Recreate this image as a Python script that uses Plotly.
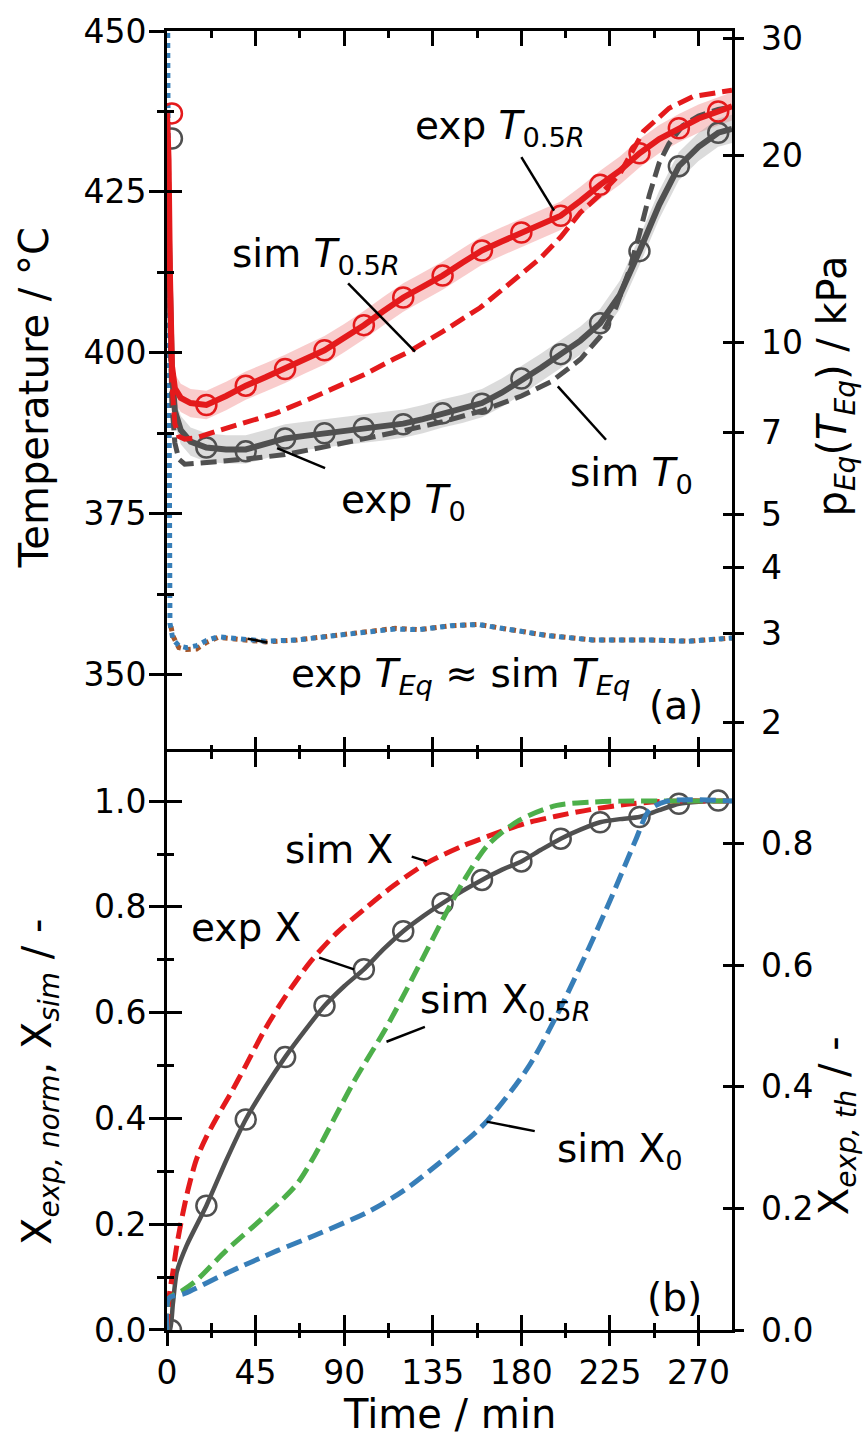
import numpy as np
import plotly.graph_objects as go

# ---------------- data: panel (a) temperatures / degC ----------------
t_exp05 = [0, 0.8, 1.5, 2.5, 4, 7, 12, 20, 30, 40, 50, 60, 70, 80, 90, 100, 110, 120,
           130, 140, 150, 160, 170, 180, 190, 200, 210, 220, 230, 240, 250, 260, 270, 280, 287]
T_exp05 = [437.2, 430, 412, 398, 394.5, 393, 392.2, 391.9, 393.3, 394.9, 396.2, 397.5, 399.0,
           400.4, 402.3, 404.3, 406.5, 408.6, 410.3, 412.0, 414.0, 415.9, 417.3, 418.7, 420.0,
           421.3, 423.6, 426.1, 428.3, 431.0, 433.2, 434.9, 436.4, 437.5, 438.3]

t_exp0 = t_exp05
T_exp0 = [433.3, 425, 410, 397, 391, 388, 386.2, 385.3, 385.0, 385.0, 385.8, 386.7, 387.1,
          387.5, 387.9, 388.3, 388.6, 389.0, 389.7, 390.6, 391.3, 392.2, 393.8, 395.7, 397.7,
          399.8, 401.9, 404.6, 409.0, 415.8, 423.0, 429.0, 432.0, 434.2, 434.8]

t_mark = [2.5, 20, 40, 60, 80, 100, 120, 140, 160, 180, 200, 220, 240, 260, 280]
T_mark05 = [437.2, 391.9, 394.9, 397.5, 400.4, 404.3, 408.6, 412.0, 415.9, 418.7, 421.3,
            426.1, 431.0, 434.9, 437.5]
T_mark0 = [433.3, 385.3, 384.7, 386.7, 387.5, 388.3, 388.9, 390.6, 392.1, 396.0, 399.8,
           404.6, 415.8, 429.0, 434.2]

t_sim05 = [0, 0.8, 1.5, 2.5, 4, 6, 9, 15, 25, 40, 55, 70, 85, 100, 115, 123, 140, 159,
           175, 190, 200, 210, 220, 230, 242, 255, 267, 280, 287]
T_sim05 = [437.2, 428, 410, 395, 389, 387, 386.6, 386.8, 387.8, 389.2, 390.6, 392.5, 394.5,
           396.6, 399.0, 400.2, 403.3, 407.0, 411.0, 414.8, 418.0, 421.8, 424.6, 427.8, 434.4,
           438.0, 439.8, 440.5, 440.8]

t_sim0 = [0, 0.8, 1.5, 2.5, 4, 6, 9, 15, 25, 40, 60, 80, 100, 120, 140, 160, 180, 195, 210,
          220, 228, 235, 240, 245, 250, 255, 262, 270, 280, 287]
T_sim0 = [433.3, 424, 405, 392, 386, 383.5, 382.7, 382.8, 383.1, 383.5, 384.2, 385.4, 386.6,
          387.9, 389.3, 391.0, 393.3, 395.5, 399.0, 402.5, 407.0, 413.0, 418.5, 424.5, 429.5,
          432.5, 435.3, 436.8, 437.8, 438.2]

band_T = 2.2  # half width of the measurement band / K

t_eq_exp = [2, 3, 6, 10, 15, 20, 26, 50, 66, 89, 116, 128, 144, 158, 177, 193, 216, 245, 265, 287]
T_eq_exp = [357.5, 356.0, 354.2, 353.9, 354.0, 355.0, 355.8, 355.1, 355.4, 356.2, 357.2, 357.0,
            357.6, 357.8, 356.9, 356.1, 355.4, 355.4, 355.2, 355.7]
t_eq_sim = [0, 0.5, 1.5, 3, 6, 10, 15, 20, 26, 50, 66, 89, 116, 128, 144, 158, 177, 193, 216,
            245, 265, 287]
T_eq_sim = [480, 420, 358, 355.5, 354.5, 354.2, 354.5, 355.3, 355.9, 355.2, 355.4, 356.2, 357.1,
            357.0, 357.6, 357.8, 356.9, 356.1, 355.4, 355.4, 355.2, 355.7]

# van't Hoff relation used for the secondary pressure axis: ln(p/kPa) = A - B/T
VH_A = 19.1024
VH_B = 11335.5
p_ticks = [2, 3, 4, 5, 7, 10, 20, 30]

# ---------------- data: panel (b) conversion ----------------
t_expX = [0, 1.5, 3, 5, 10, 20, 30, 40, 50, 60, 70, 80, 90, 100, 110, 120, 130, 140, 150, 160,
          170, 180, 190, 200, 210, 220, 230, 240, 250, 260, 270, 280, 287]
X_exp = [0.0, 0.0, 0.05, 0.11, 0.16, 0.235, 0.32, 0.398, 0.46, 0.516, 0.566, 0.613, 0.65,
         0.682, 0.72, 0.754, 0.782, 0.807, 0.83, 0.851, 0.87, 0.886, 0.908, 0.929, 0.946,
         0.960, 0.966, 0.970, 0.983, 0.995, 0.999, 1.0, 1.0]
t_markX = [2, 20, 40, 60, 80, 100, 120, 140, 160, 180, 200, 220, 240, 260, 280]
X_mark = [0.0, 0.235, 0.398, 0.516, 0.613, 0.682, 0.754, 0.807, 0.851, 0.886, 0.929, 0.960,
          0.970, 0.995, 1.001]

t_simX = [0, 1, 3, 5, 8, 11, 15, 20, 25, 32, 40, 50, 60, 73, 86, 100, 115, 132, 150,
          167, 182, 197, 215, 236, 255, 287]
X_sim = [0.0, 0.06, 0.11, 0.16, 0.22, 0.27, 0.323, 0.365, 0.40, 0.445, 0.50, 0.57, 0.63,
         0.697, 0.75, 0.795, 0.84, 0.883, 0.915, 0.939, 0.958, 0.971, 0.984, 0.995, 1.0, 1.0]

t_simX05 = [0, 1, 8, 15, 30, 49, 66, 75, 85, 95, 112, 128, 140, 151, 163, 179, 198, 215, 230, 287]
X_sim05 = [0.0, 0.06, 0.075, 0.094, 0.15, 0.213, 0.276, 0.33, 0.40, 0.47, 0.576, 0.689, 0.776,
           0.851, 0.917, 0.964, 0.992, 0.998, 1.0, 1.0]

t_simX0 = [0, 1, 9, 30, 56, 77, 103, 120, 143, 161, 183, 198, 214, 226, 238, 245, 254, 287]
X_sim0 = [0.0, 0.06, 0.069, 0.107, 0.15, 0.182, 0.225, 0.263, 0.33, 0.389, 0.494, 0.595, 0.72,
          0.82, 0.926, 0.983, 1.0, 1.0]

X_th_scale = 0.87  # thermal conversion corresponding to normalised X = 1
xth_ticks = [0.0, 0.2, 0.4, 0.6, 0.8]

# ---------------- style ----------------
RED = "#e41a1c"
GREY = "#505050"
GREEN = "#4daf4a"
BLUE = "#377eb8"
BROWN = "#a65628"
FONT = "DejaVu Sans"
DASH = "16px,7px"
PAD = "\u00a0"  # keeps right-hand tick labels clear of the ticks

T_RANGE = [338, 450]
X_RANGE = [0, 287]
XN_RANGE = [0, 1.093]
XTH_RANGE = [XN_RANGE[0] * X_th_scale, XN_RANGE[1] * X_th_scale]
SPLIT = 0.445

fig = go.Figure()


def band(t, T, color, xa, ya):
    up = [v + band_T for v in T]
    lo = [v - band_T for v in T]
    fig.add_trace(go.Scatter(x=list(t) + list(t)[::-1], y=up + lo[::-1], fill="toself",
                             fillcolor=color, line=dict(width=0), mode="lines",
                             xaxis=xa, yaxis=ya, hoverinfo="skip", showlegend=False))


# panel (a)
band(t_exp05, T_exp05, "rgba(238,120,120,0.38)", "x", "y")
band(t_exp0, T_exp0, "rgba(165,165,165,0.40)", "x", "y")

fig.add_trace(go.Scatter(x=t_eq_exp, y=T_eq_exp, mode="lines",
                         line=dict(color=BROWN, width=5, dash="5px,5px"),
                         xaxis="x", yaxis="y", showlegend=False))
fig.add_trace(go.Scatter(x=t_eq_sim, y=T_eq_sim, mode="lines",
                         line=dict(color=BLUE, width=5, dash="0px,5px,5px,0px"),
                         xaxis="x", yaxis="y", showlegend=False))

fig.add_trace(go.Scatter(x=t_exp0, y=T_exp0, mode="lines", line=dict(color=GREY, width=6),
                         xaxis="x", yaxis="y", showlegend=False))
fig.add_trace(go.Scatter(x=t_mark, y=T_mark0, mode="markers",
                         marker=dict(symbol="circle-open", size=20, color=GREY,
                                     line=dict(width=2.5)),
                         xaxis="x", yaxis="y", showlegend=False))
fig.add_trace(go.Scatter(x=t_sim0, y=T_sim0, mode="lines",
                         line=dict(color=GREY, width=5, dash=DASH),
                         xaxis="x", yaxis="y", showlegend=False))

fig.add_trace(go.Scatter(x=t_exp05, y=T_exp05, mode="lines", line=dict(color=RED, width=6),
                         xaxis="x", yaxis="y", showlegend=False))
fig.add_trace(go.Scatter(x=t_mark, y=T_mark05, mode="markers",
                         marker=dict(symbol="circle-open", size=20, color=RED,
                                     line=dict(width=2.5)),
                         xaxis="x", yaxis="y", showlegend=False))
fig.add_trace(go.Scatter(x=t_sim05, y=T_sim05, mode="lines",
                         line=dict(color=RED, width=5, dash=DASH),
                         xaxis="x", yaxis="y", showlegend=False))

# panel (b)
fig.add_trace(go.Scatter(x=t_expX, y=X_exp, mode="lines",
                         line=dict(color=GREY, width=4.5, shape="spline", smoothing=0.6),
                         xaxis="x2", yaxis="y3", showlegend=False))
fig.add_trace(go.Scatter(x=t_markX, y=X_mark, mode="markers",
                         marker=dict(symbol="circle-open", size=20, color=GREY,
                                     line=dict(width=2.5)),
                         xaxis="x2", yaxis="y3", showlegend=False))
for tt, xx, col in [(t_simX, X_sim, RED), (t_simX05, X_sim05, GREEN), (t_simX0, X_sim0, BLUE)]:
    fig.add_trace(go.Scatter(x=tt, y=xx, mode="lines",
                             line=dict(color=col, width=5, dash=DASH, shape="spline",
                                       smoothing=0.8),
                             xaxis="x2", yaxis="y3", showlegend=False))

# invisible anchors so that every overlaying axis gets drawn
for xa, ya, xr, yr in [("x4", "y", X_RANGE, T_RANGE), ("x", "y2", X_RANGE, T_RANGE),
                       ("x", "y4", X_RANGE, T_RANGE), ("x", "y5", X_RANGE, T_RANGE),
                       ("x3", "y3", X_RANGE, XN_RANGE), ("x2", "y6", X_RANGE, XN_RANGE),
                       ("x2", "y7", X_RANGE, XTH_RANGE), ("x2", "y8", X_RANGE, XTH_RANGE)]:
    fig.add_trace(go.Scatter(x=[xr[0]], y=[yr[0]], mode="markers",
                             marker=dict(opacity=0, size=1), hoverinfo="skip",
                             xaxis=xa, yaxis=ya, showlegend=False))

# ---------------- axes ----------------
tickfont = dict(family=FONT, size=33, color="black")
common = dict(showline=True, linewidth=3, linecolor="black", tickwidth=3, tickcolor="black",
              ticklen=15, showgrid=False, zeroline=False, tickfont=tickfont)
nolab = dict(showline=False, showgrid=False, zeroline=False, showticklabels=False,
             tickwidth=3, tickcolor="black", ticklen=15)
RTICK = 9  # tick length on the right-hand axes

xminor_in = dict(ticks="inside", dtick=22.5, ticklen=7, tickwidth=2.5, tickcolor="black")
xminor_out = dict(ticks="outside", dtick=22.5, ticklen=7, tickwidth=2.5, tickcolor="black")

p_tickvals = [VH_B / (VH_A - np.log(p)) - 273.15 for p in p_ticks]

fig.update_layout(
    # panel (a): frame line on top, inward ticks top and bottom
    xaxis=dict(**common, domain=[0, 1], anchor="y", side="top", range=X_RANGE, dtick=45,
               tick0=0, ticks="inside", showticklabels=False, minor=xminor_in),
    xaxis4=dict(**nolab, overlaying="x", anchor="y", side="bottom", range=X_RANGE, dtick=45,
                tick0=0, ticks="inside", minor=xminor_in),
    # panel (b): shared border on top, labelled time axis at the bottom
    xaxis2=dict(**common, domain=[0, 1], anchor="y3", range=X_RANGE, dtick=45, tick0=0,
                ticks="inside", mirror="ticks", minor=xminor_in, ticklabelstandoff=11),
    xaxis3=dict(**nolab, overlaying="x2", anchor="y3", range=X_RANGE, dtick=45, tick0=0,
                ticks="outside", minor=xminor_out),
    yaxis=dict(**common, domain=[SPLIT, 1], anchor="x", range=T_RANGE, dtick=25, tick0=350,
               ticks="outside", side="left", ticklabelstandoff=-4,
               minor=dict(ticks="outside", dtick=12.5, ticklen=7, tickwidth=2.5,
                          tickcolor="black")),
    yaxis4=dict(**nolab, overlaying="y", anchor="x", side="left", range=T_RANGE, dtick=25,
                tick0=350, ticks="inside",
                minor=dict(ticks="inside", dtick=12.5, ticklen=7, tickwidth=2.5,
                           tickcolor="black")),
    yaxis2=dict(**{**common, "ticklen": RTICK}, overlaying="y", anchor="x", side="right",
                range=T_RANGE, tickmode="array", tickvals=p_tickvals,
                ticktext=[PAD + str(p) for p in p_ticks], ticks="outside"),
    yaxis5=dict(**{**nolab, "ticklen": RTICK}, overlaying="y", anchor="x", side="right",
                range=T_RANGE, tickmode="array", tickvals=p_tickvals, ticks="inside"),
    yaxis3=dict(**common, domain=[0, SPLIT], anchor="x2", range=XN_RANGE, dtick=0.2, tick0=0,
                tickformat=".1f", ticks="outside", side="left", ticklabelstandoff=-4,
                minor=dict(ticks="outside", dtick=0.1, ticklen=7, tickwidth=2.5,
                           tickcolor="black")),
    yaxis6=dict(**nolab, overlaying="y3", anchor="x2", side="left", range=XN_RANGE, dtick=0.2,
                tick0=0, ticks="inside",
                minor=dict(ticks="inside", dtick=0.1, ticklen=7, tickwidth=2.5,
                           tickcolor="black")),
    yaxis7=dict(**{**common, "ticklen": RTICK}, overlaying="y3", anchor="x2", side="right",
                range=XTH_RANGE, tickmode="array", tickvals=xth_ticks,
                ticktext=[PAD + f"{v:.1f}" for v in xth_ticks], ticks="outside"),
    yaxis8=dict(**{**nolab, "ticklen": RTICK}, overlaying="y3", anchor="x2", side="right",
                range=XTH_RANGE, tickmode="array", tickvals=xth_ticks, ticks="inside"),
)

# ---------------- labels ----------------
lab_font = dict(family=FONT, size=39, color="black")
title_font = dict(family=FONT, size=40, color="black")

labels_a = [
    ("exp <i>T</i><sub>0.5<i>R</i></sub>", 169.2, 435.0),
    ("sim <i>T</i><sub>0.5<i>R</i></sub>", 75.7, 415.1),
    ("exp <i>T</i><sub>0</sub>", 119.9, 376.8),
    ("sim <i>T</i><sub>0</sub>", 235.8, 381.0),
    ("exp <i>T<sub>Eq</sub></i> ≈ sim <i>T<sub>Eq</sub></i>", 148.9, 349.8),
    ("(a)", 258.6, 345.2),
]
leaders_a = [
    (180.0, 430.4, 196.6, 422.1),
    (92.0, 410.8, 126.0, 400.2),
    (55.9, 385.2, 80.3, 382.1),
    (198.5, 394.8, 223.0, 386.5),
    (41.0, 355.6, 51.0, 355.0),
]
labels_b = [
    ("sim X", 87.4, 0.909),
    ("exp X", 40.1, 0.761),
    ("sim X<sub>0.5<i>R</i></sub>", 171.7, 0.620),
    ("sim X<sub>0</sub>", 230.2, 0.339),
    ("(b)", 257.6, 0.062),
]
leaders_b = [
    (124.3, 0.895, 132.0, 0.886),
    (77.3, 0.704, 95.0, 0.682),
    (131.0, 0.573, 111.5, 0.545),
    (162.3, 0.394, 186.8, 0.376),
]

annotations = []
for txt, xv, yv in labels_a:
    annotations.append(dict(text=txt, x=xv, y=yv, xref="x", yref="y", showarrow=False,
                            xanchor="center", yanchor="middle", font=lab_font))
for txt, xv, yv in labels_b:
    annotations.append(dict(text=txt, x=xv, y=yv, xref="x2", yref="y3", showarrow=False,
                            xanchor="center", yanchor="middle", font=lab_font))

# axis titles
axis_titles = [
    ("Temperature / °C", -0.2354, 0.718, -90),
    ("p<sub><i>Eq</i></sub>(<i>T</i><sub><i>Eq</i></sub>) / kPa", 1.182, 0.727, -90),
    ("X<sub><i>exp, norm</i></sub>, X<sub><i>sim</i></sub> / -", -0.2248, 0.191, -90),
    ("X<sub><i>exp, th</i></sub> / -", 1.186, 0.157, -90),
    ("Time / min", 0.5, -0.065, 0),
]
for txt, xv, yv, ang in axis_titles:
    annotations.append(dict(text=txt, x=xv, y=yv, xref="paper", yref="paper", showarrow=False,
                            xanchor="center", yanchor="middle", textangle=ang,
                            font=title_font))

shapes = []
for x0, y0, x1, y1 in leaders_a:
    shapes.append(dict(type="line", x0=x0, y0=y0, x1=x1, y1=y1, xref="x", yref="y",
                       line=dict(color="black", width=2.5)))
for x0, y0, x1, y1 in leaders_b:
    shapes.append(dict(type="line", x0=x0, y0=y0, x1=x1, y1=y1, xref="x2", yref="y3",
                       line=dict(color="black", width=2.5)))

fig.update_layout(
    width=863, height=1443,
    margin=dict(l=167, r=131, t=22, b=113, pad=0),
    paper_bgcolor="white", plot_bgcolor="white",
    annotations=annotations, shapes=shapes,
    font=dict(family=FONT, color="black"),
    showlegend=False,
)

fig.write_html("out.html")
